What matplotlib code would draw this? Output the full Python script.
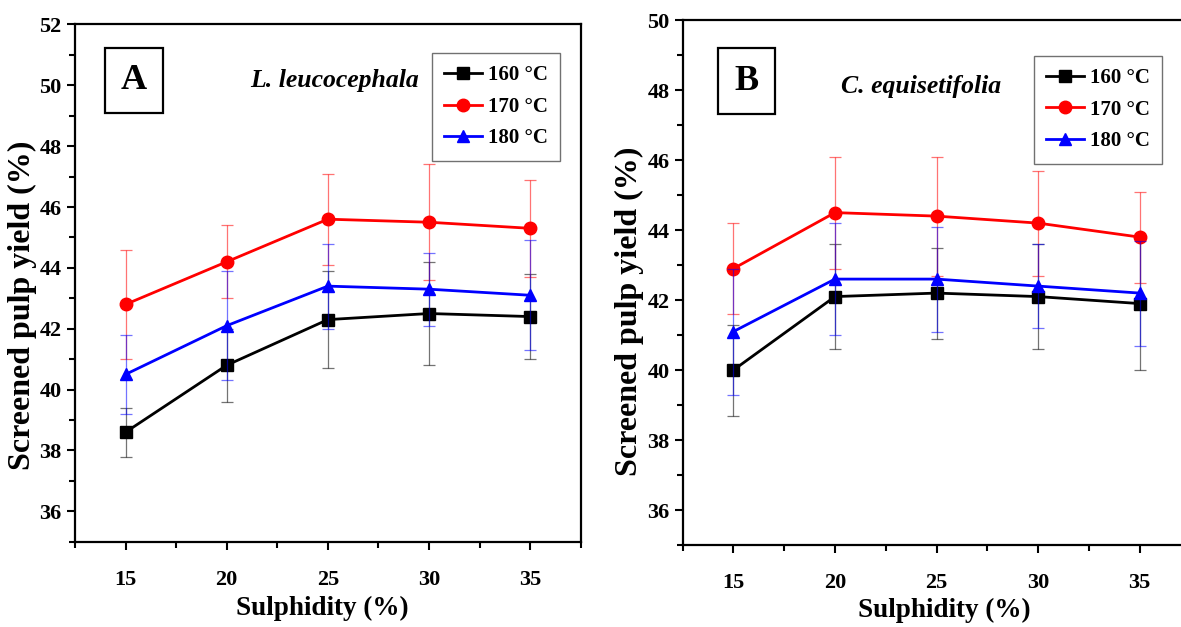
import numpy as np
import matplotlib
matplotlib.use("Agg")
import matplotlib.pyplot as plt
from matplotlib.ticker import MultipleLocator

plt.rcParams["font.family"] = "Liberation Serif"
plt.rcParams["font.weight"] = "bold"

sulphidity = [15, 20, 25, 30, 35]
temps = ["160 °C", "170 °C", "180 °C"]

# L. leucocephala
yield_a_160 = [38.6, 40.8, 42.3, 42.5, 42.4]
yield_a_170 = [42.8, 44.2, 45.6, 45.5, 45.3]
yield_a_180 = [40.5, 42.1, 43.4, 43.3, 43.1]
err_a_160 = [0.8, 1.2, 1.6, 1.7, 1.4]
err_a_170 = [1.8, 1.2, 1.5, 1.9, 1.6]
err_a_180 = [1.3, 1.8, 1.4, 1.2, 1.8]

# C. equisetifolia
yield_b_160 = [40.0, 42.1, 42.2, 42.1, 41.9]
yield_b_170 = [42.9, 44.5, 44.4, 44.2, 43.8]
yield_b_180 = [41.1, 42.6, 42.6, 42.4, 42.2]
err_b_160 = [1.3, 1.5, 1.3, 1.5, 1.9]
err_b_170 = [1.3, 1.6, 1.7, 1.5, 1.3]
err_b_180 = [1.8, 1.6, 1.5, 1.2, 1.5]

colors = ["black", "red", "blue"]
markers = ["s", "o", "^"]


def panel(ax, ys, errs, ylim, letter, species, letter_pos, species_pos,
          leg_anchor, ylab_pos, xlab_pos):
    for y, e, c, m, lab in zip(ys, errs, colors, markers, temps):
        ax.errorbar(sulphidity, y, yerr=e, color=c, ecolor=c, elinewidth=0.9,
                    capsize=4, capthick=0.9, fmt="none", alpha=0.55)
        ax.plot(sulphidity, y, color=c, marker=m, markersize=9, linewidth=2,
                label=lab)
    ax.set_xlim(12.5, 37.5)
    ax.set_ylim(*ylim)
    ax.xaxis.set_major_locator(MultipleLocator(5))
    ax.xaxis.set_minor_locator(MultipleLocator(2.5))
    ax.yaxis.set_major_locator(MultipleLocator(2))
    ax.yaxis.set_minor_locator(MultipleLocator(1))
    ax.tick_params(which="major", direction="out", length=6, width=1.5,
                   labelsize=16, top=False, right=False)
    ax.tick_params(axis="x", which="major", pad=14)
    ax.tick_params(which="minor", direction="out", length=4, width=1.5,
                   top=False, right=False)
    for s in ax.spines.values():
        s.set_linewidth(1.6)
    ax.set_xlabel("Sulphidity (%)", fontsize=19.5, fontweight="bold")
    ax.set_ylabel("Screened pulp yield (%)", fontsize=23, fontweight="bold")
    ax.yaxis.set_label_coords(*ylab_pos)
    ax.xaxis.set_label_coords(*xlab_pos)
    ax.text(*letter_pos, letter, transform=ax.transAxes, fontsize=26,
            fontweight="bold", ha="center", va="center",
            bbox=dict(boxstyle="square,pad=0.45", fc="white", ec="black", lw=1.6))
    ax.text(*species_pos, species, transform=ax.transAxes, fontsize=18.5,
            fontweight="bold", style="italic", ha="center", va="center")
    leg = ax.legend(loc="upper right", bbox_to_anchor=leg_anchor, fontsize=15,
                    frameon=True, fancybox=False, edgecolor="0.3",
                    handlelength=1.8, handletextpad=0.3, borderpad=0.6,
                    labelspacing=0.55)
    leg.get_frame().set_linewidth(1.0)


fig = plt.figure(figsize=(11.81, 6.27), dpi=100)
ax1 = fig.add_axes([0.0635, 0.136, 0.4282, 0.825])
ax2 = fig.add_axes([0.578, 0.1308, 0.430, 0.837])

panel(ax1, [yield_a_160, yield_a_170, yield_a_180],
      [err_a_160, err_a_170, err_a_180], (35, 52), "A", "L. leucocephala",
      (0.117, 0.892), (0.514, 0.892), (0.98, 0.965),
      (-0.076, 0.457), (0.49, -0.105))
panel(ax2, [yield_b_160, yield_b_170, yield_b_180],
      [err_b_160, err_b_170, err_b_180], (35, 50), "B", "C. equisetifolia",
      (0.126, 0.884), (0.469, 0.874), (0.965, 0.952),
      (-0.076, 0.446), (0.516, -0.101))

fig.savefig("out.png", dpi=100)
